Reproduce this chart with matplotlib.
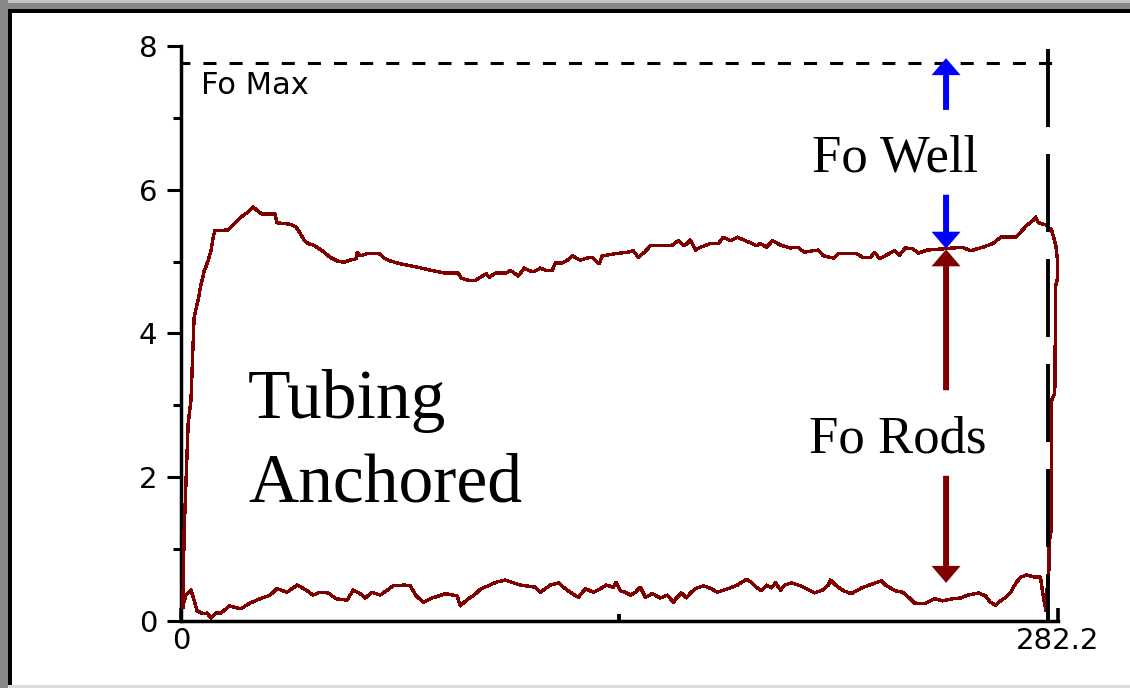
"""
pump_card.py
------------
Downhole pump card for a tubing-anchored well: load vs plunger position,
with the Fo Max line and the Fo Well / Fo Rods split marked by arrows.

Saved to: out.png
"""

import matplotlib
matplotlib.use("Agg")  # no display
import matplotlib.pyplot as plt
from matplotlib.patches import FancyArrowPatch, Rectangle

plt.rcParams["lines.scale_dashes"] = False  # dash lengths in points

# Axis scale
STROKE = 282.2
LOAD_MAX = 8
FO_MAX = 7.76
STROKE_END = 279.1          # end-of-stroke marker
FO_MAX_END = 281.4

# Upstroke: position and load, left to right, then down the right side
up_pos = [0.6, 1.0, 2.3, 3.2, 4.2, 5.5, 6.4, 7.4, 8.7, 9.7, 10.3, 10.9, 15.1,
          16.8, 19.0, 21.3, 23.2, 24.8, 26.1, 30.3, 30.9, 35.1, 37.0, 38.3,
          39.6, 40.9, 42.5, 44.1, 46.1, 48.0, 50.3, 52.5, 54.4, 56.4, 56.7,
          57.7, 59.9, 63.8, 65.4, 67.3, 70.6, 72.8, 76.4, 80.2, 85.1, 89.2,
          90.2, 92.5, 94.7, 96.3, 98.3, 99.2, 101.2, 104.7, 106.0, 108.6,
          110.5, 112.4, 113.7, 115.7, 117.3, 119.5, 120.5, 122.7, 124.4,
          126.0, 128.5, 130.8, 132.4, 134.0, 134.7, 135.6, 139.8, 143.7,
          145.6, 147.2, 149.2, 151.1, 156.6, 158.2, 160.1, 162.1, 164.0,
          165.6, 167.2, 170.4, 173.0, 174.6, 176.9, 179.1, 181.7, 184.0,
          185.2, 186.5, 188.5, 190.4, 193.0, 196.2, 198.5, 200.7, 203.3,
          205.2, 206.8, 210.1, 211.7, 217.5, 219.4, 222.0, 223.3, 224.9,
          227.1, 229.7, 231.3, 233.2, 235.5, 237.4, 240.3, 246.1, 251.6,
          254.2, 258.1, 261.3, 263.9, 268.7, 270.3, 272.2, 274.5, 275.1,
          276.1, 278.4, 280.3, 281.6, 282.2, 282.2, 281.6, 281.3, 280.3,
          280.3, 279.4, 279.4, 278.8, 278.4]
up_load = [0.19, 1.24, 2.75, 3.07, 4.22, 4.47, 4.67, 4.86, 5.01, 5.16, 5.33,
           5.43, 5.44, 5.51, 5.61, 5.68, 5.76, 5.70, 5.66, 5.66, 5.54, 5.52,
           5.48, 5.40, 5.30, 5.25, 5.23, 5.19, 5.13, 5.06, 5.01, 4.99, 5.02,
           5.04, 5.13, 5.08, 5.11, 5.11, 5.05, 5.01, 4.97, 4.95, 4.92, 4.88,
           4.84, 4.84, 4.77, 4.74, 4.74, 4.78, 4.83, 4.78, 4.84, 4.84, 4.88,
           4.80, 4.91, 4.87, 4.86, 4.91, 4.88, 4.88, 4.98, 4.98, 5.02, 5.08,
           5.02, 5.05, 5.06, 4.99, 4.97, 5.08, 5.11, 5.13, 5.15, 5.06, 5.13,
           5.22, 5.22, 5.23, 5.29, 5.22, 5.30, 5.16, 5.20, 5.25, 5.25, 5.34,
           5.29, 5.34, 5.29, 5.25, 5.22, 5.25, 5.20, 5.29, 5.23, 5.19, 5.20,
           5.13, 5.15, 5.16, 5.08, 5.05, 5.11, 5.11, 5.06, 5.06, 5.13, 5.04,
           5.09, 5.15, 5.09, 5.19, 5.18, 5.12, 5.16, 5.18, 5.20, 5.15, 5.20,
           5.25, 5.34, 5.34, 5.41, 5.50, 5.58, 5.62, 5.54, 5.51, 5.44, 5.23,
           5.02, 4.77, 4.67, 3.17, 3.07, 1.31, 1.06, 0.71, 0.43, 0.15]

# Downstroke: position and load, right to left
down_pos = [278.4, 277.4, 276.7, 274.8, 272.2, 270.3, 269.0, 268.0, 267.1,
            265.5, 263.9, 262.2, 260.6, 259.0, 256.8, 253.2, 251.0, 248.4,
            245.2, 242.6, 239.4, 236.1, 234.5, 232.3, 230.0, 228.4, 226.8,
            225.5, 223.6, 221.6, 219.1, 215.8, 213.3, 210.7, 209.1, 208.4,
            206.5, 203.9, 202.3, 199.4, 196.5, 194.3, 193.0, 191.4, 190.1,
            188.5, 186.9, 185.2, 183.6, 182.0, 179.1, 176.2, 172.7, 170.7,
            168.2, 165.6, 164.0, 162.7, 161.1, 159.5, 158.5, 156.6, 154.3,
            151.7, 149.5, 147.9, 146.3, 144.7, 143.0, 141.4, 140.1, 139.2,
            136.9, 135.0, 132.7, 130.2, 127.9, 126.0, 123.7, 121.5, 118.9,
            115.7, 114.0, 109.2, 104.4, 101.5, 99.5, 96.6, 94.1, 92.5, 90.9,
            89.9, 88.9, 85.1, 80.9, 78.0, 75.7, 73.8, 71.8, 68.3, 66.4, 64.1,
            61.5, 59.3, 57.7, 55.4, 53.5, 49.9, 47.4, 44.8, 42.5, 40.3, 37.4,
            34.1, 30.9, 28.7, 25.5, 22.2, 19.3, 15.5, 12.9, 11.3, 9.7, 8.4,
            7.1, 5.2, 4.2, 3.2, 1.6, 0.6]
down_load = [0.15, 0.40, 0.61, 0.61, 0.64, 0.61, 0.54, 0.47, 0.40, 0.33, 0.28,
             0.22, 0.26, 0.35, 0.39, 0.36, 0.32, 0.31, 0.28, 0.31, 0.24, 0.25,
             0.32, 0.40, 0.42, 0.46, 0.50, 0.56, 0.53, 0.50, 0.46, 0.38, 0.42,
             0.50, 0.57, 0.50, 0.43, 0.39, 0.43, 0.49, 0.53, 0.50, 0.43, 0.53,
             0.46, 0.50, 0.42, 0.47, 0.54, 0.58, 0.50, 0.45, 0.40, 0.45, 0.49,
             0.45, 0.39, 0.32, 0.39, 0.32, 0.26, 0.36, 0.32, 0.38, 0.33, 0.47,
             0.40, 0.36, 0.40, 0.42, 0.54, 0.47, 0.50, 0.45, 0.40, 0.45, 0.33,
             0.38, 0.45, 0.53, 0.50, 0.40, 0.47, 0.50, 0.57, 0.54, 0.50, 0.45,
             0.35, 0.31, 0.25, 0.21, 0.35, 0.38, 0.32, 0.26, 0.35, 0.49, 0.50,
             0.49, 0.43, 0.36, 0.40, 0.32, 0.38, 0.43, 0.29, 0.31, 0.39, 0.40,
             0.36, 0.43, 0.50, 0.40, 0.45, 0.36, 0.31, 0.25, 0.17, 0.21, 0.11,
             0.11, 0.04, 0.11, 0.10, 0.14, 0.29, 0.43, 0.36, 0.22]

# Fo split arrows (drawn at one plunger position)
ARROW_POS = 246.3
fo_well_up = (7.11, 7.83)
fo_well_down = (5.93, 5.18)
fo_rods_up = (3.21, 5.17)
fo_rods_down = (2.02, 0.53)

CARD_RED = "#800000"
WELL_BLUE = "#0000ff"
SERIF = "Liberation Serif"


def draw_window_frame(fig, w=1130, h=688):
    """Grey/black window border along the top, left and bottom edges."""
    def band(x0, y0, x1, y1, color):
        fig.add_artist(Rectangle((x0 / w, 1 - y1 / h), (x1 - x0) / w,
                                 (y1 - y0) / h, transform=fig.transFigure,
                                 color=color, lw=0, zorder=-5))
    band(0, 0, w, 3, "#c4c4c4")
    band(0, 3, w, 9, "#888888")
    band(0, 0, 8, h, "#888888")
    band(8, 9, w, 12.5, "black")
    band(8, 9, 12, h - 3, "black")
    band(8, h - 3, w, h, "#dcdcdc")


def draw_arrow(ax, y_from, y_to, color):
    ax.add_patch(FancyArrowPatch(
        (ARROW_POS, y_from), (ARROW_POS, y_to),
        arrowstyle="simple,head_length=12.2,head_width=20.9,tail_width=4.3",
        mutation_scale=1, color=color, lw=0,
        shrinkA=0, shrinkB=0, zorder=5))


def plot_card(path="out.png"):
    fig = plt.figure(figsize=(11.3, 6.88), dpi=100)
    draw_window_frame(fig)

    ax = fig.add_axes([0.1602, 0.0974, 0.7757, 0.8358])
    ax.set_xlim(0, STROKE)
    ax.set_ylim(0, LOAD_MAX)

    for side in ("top", "right"):
        ax.spines[side].set_visible(False)
    for side in ("left", "bottom"):
        ax.spines[side].set_linewidth(2.5)

    # Ticks: y outward with minors, x inward with a mid-stroke minor
    ax.set_yticks([0, 2, 4, 6, 8])
    ax.set_yticks([1, 3, 5, 7], minor=True)
    ax.set_xticks([0, STROKE])
    ax.set_xticklabels(["0", "282.2"])
    ax.set_xticks([STROKE / 2], minor=True)
    ax.tick_params(axis="y", which="major", direction="out", length=10,
                   width=2.2, pad=7, labelsize=21)
    ax.tick_params(axis="y", which="minor", direction="out", length=6,
                   width=2.2)
    ax.tick_params(axis="x", which="major", direction="in", length=9.5,
                   width=2.6, pad=4, labelsize=21)
    ax.tick_params(axis="x", which="minor", direction="in", length=5,
                   width=2.8)

    # Pump card loop
    ax.plot(up_pos, up_load, color=CARD_RED, lw=1.7, antialiased=False,
            clip_on=False, zorder=3)
    ax.plot(down_pos, down_load, color=CARD_RED, lw=1.7, antialiased=False,
            clip_on=False, zorder=3)

    # Fo Max line and end-of-stroke marker
    ax.plot([0, FO_MAX_END], [FO_MAX, FO_MAX], color="black", lw=2.2,
            linestyle=(3, (9.4, 9.4)), clip_on=False, zorder=4)
    ax.plot([STROKE_END, STROKE_END], [7.96, 0], color="black", lw=2.8,
            linestyle=(0, (56.2, 19.4)), clip_on=False, zorder=4)
    ax.text(6.4, 7.33, "Fo Max", fontsize=22, ha="left", va="baseline")

    # Fo Well / Fo Rods split
    draw_arrow(ax, *fo_well_up, WELL_BLUE)
    draw_arrow(ax, *fo_well_down, WELL_BLUE)
    draw_arrow(ax, *fo_rods_up, CARD_RED)
    draw_arrow(ax, *fo_rods_down, CARD_RED)
    ax.text(229.9, 6.25, "Fo Well", family=SERIF, fontsize=38,
            ha="center", va="baseline")
    ax.text(230.8, 2.34, "Fo Rods", family=SERIF, fontsize=38,
            ha="center", va="baseline")

    ax.text(21.6, 2.82, "Tubing", family=SERIF, fontsize=50,
            ha="left", va="baseline")
    ax.text(21.6, 1.66, "Anchored", family=SERIF, fontsize=50,
            ha="left", va="baseline")

    fig.savefig(path, dpi=100)
    plt.close(fig)
    print(f"[INFO] Saved: {path}")


if __name__ == "__main__":
    plot_card("out.png")
